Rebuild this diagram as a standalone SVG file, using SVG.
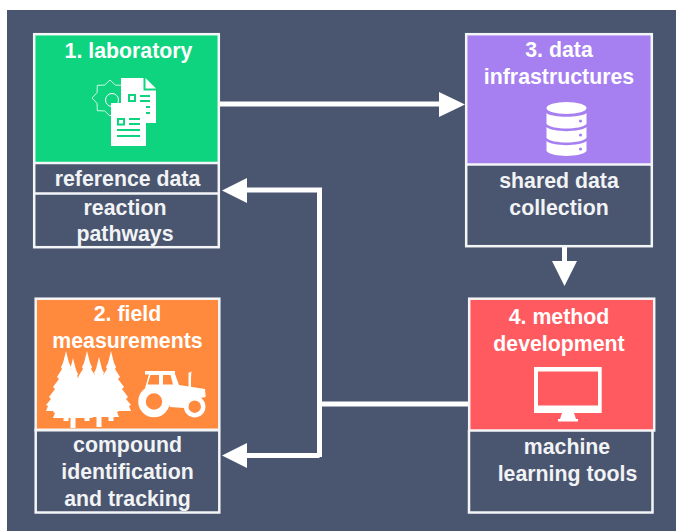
<svg xmlns="http://www.w3.org/2000/svg" width="676" height="531" viewBox="0 0 676 531">
<style>
.b{fill:none;stroke:#f4f5f7;stroke-width:2.5}
.t{font-family:"Liberation Sans",Arial,sans-serif;font-weight:700;font-size:21.3px;fill:#fff;text-anchor:middle}
.s{fill:#f2f3f5}
.w{fill:#fff}
.c{fill:none;stroke:#fff;stroke-width:5}
.h{fill:#fff}
.g{fill:#0fd47f}
</style>
<defs>
<g id="tree"><path class="w" d="M0 0L3 12L5 16L4 18L9 26L7 28L13 36L11 38L17 46L15 48L20 54L18 55L20 60L-20 60L-18 55L-20 54L-15 48L-17 46L-11 38L-13 36L-7 28L-9 26L-4 18L-5 16L-3 12Z"/><rect class="w" x="-2.500" y="60" width="5" height="10"/></g>
</defs>
<rect width="676" height="531" fill="#fff"/>
<rect x="7" y="10" width="669" height="521" fill="#4a5670"/>

<g id="connectors">
<path class="c" d="M220 104H441"/><path class="h" d="M439 92L465 104.500L439 117Z"/>
<path class="c" d="M564.500 247V263"/><path class="h" d="M552 261H577L564.500 286Z"/>
<path class="c" d="M245 190H319.500V457"/><path class="h" d="M247 178L222 190.500L247 203Z"/>
<path class="c" d="M245 455.500H319.500"/><path class="h" d="M247 443L222 455.500L247 468Z"/>
<path class="c" d="M319.500 404H469"/>
</g>

<g id="node-1">
<rect x="35" y="35" width="183" height="128" fill="#0fd47f"/>
<rect class="b" x="34.200" y="34.200" width="184.600" height="213"/>
<path class="b" d="M34 163H219M34 193.500H219"/>
<text class="t" x="128.500" y="58">1. laboratory</text>
<g id="icon-1">
<path fill="none" stroke="#fff" stroke-width="0.800" stroke-linejoin="round" d="M128 98L122.900 103.400L122.700 110.700L115.400 110.900L110 116L104.600 110.900L97.300 110.700L97.100 103.400L92 98L97.100 92.600L97.300 85.300L104.600 85.100L110 80L115.400 85.100L122.700 85.300L122.900 92.600Z"/>
<circle cx="112" cy="100" r="6.500" fill="none" stroke="#fff" stroke-width="1"/>
<path class="w" d="M121 78H143.500V90.500H156V123H121Z"/>
<path class="w" d="M145.500 78L156 88.500H145.500Z"/>
<path class="g" d="M128 94h8v8h-8zM140 95h10v2h-10zM140 100h10v2h-10zM140 106h10v2h-10zM140 112h10v2h-10z"/>
<rect class="w" x="130" y="96" width="4" height="4"/>
<rect class="w" x="111" y="103" width="35" height="43"/>
<path class="g" d="M117 118h8v7.500h-8zM129 118h11v2h-11zM129 123h11v2h-11zM117 129h23v2h-23zM117 135h23v2h-23z"/>
<rect class="w" x="119" y="120" width="4" height="3.500"/>
</g>
<text class="t s" x="127.500" y="186">reference data</text>
<text class="t s" x="125" y="215">reaction</text>
<text class="t s" x="125" y="241">pathways</text>
</g>

<g id="node-3">
<rect x="467" y="35" width="185" height="129" fill="#a67ff0"/>
<rect class="b" x="466.200" y="34.200" width="185.600" height="212"/>
<path class="b" d="M466 164.500H652"/>
<text class="t" x="559" y="57">3. data</text>
<text class="t" x="559" y="84">infrastructures</text>
<g id="icon-3" class="w">
<ellipse cx="566.500" cy="108" rx="20" ry="6"/>
<path d="M546.500 113C552 118 581 118 586.500 113V124C581 130 552 130 546.500 124Z"/>
<path d="M546.500 127C552 132.500 581 132.500 586.500 127V138C581 144 552 144 546.500 138Z"/>
<path d="M546.500 141C552 146.500 581 146.500 586.500 141V151C581 157.500 552 157.500 546.500 151Z"/>
<circle cx="580.500" cy="121" r="1.600" fill="#a67ff0"/><circle cx="580.500" cy="135" r="1.600" fill="#a67ff0"/><circle cx="580.500" cy="149" r="1.600" fill="#a67ff0"/>
</g>
<text class="t s" x="559" y="188">shared data</text>
<text class="t s" x="559" y="215">collection</text>
</g>

<g id="node-2">
<rect x="36" y="299" width="183" height="131" fill="#ff8a3d"/>
<rect class="b" x="35.700" y="298.700" width="183.600" height="213.800"/>
<path d="M34.500 430H220" fill="none" stroke="#f4f5f7" stroke-width="3"/>
<text class="t" x="127.500" y="321">2. field</text>
<text class="t" x="127.500" y="348">measurements</text>
<g id="icon-2">
<use href="#tree" x="66" y="351"/>
<use href="#tree" x="73" y="358"/>
<use href="#tree" x="87" y="351"/>
<use href="#tree" x="99" y="357"/>
<use href="#tree" x="111" y="351"/>
<rect class="w" x="66" y="378" width="45" height="33"/>
<path class="w" d="M149 374H175L179 385L205 389L205.700 397L200 398H190L184 408L170 407L165 395L150 392L144 392Z"/>
<path fill="#ff8a3d" d="M150.500 375H159V384.500H147.500ZM163 375H170.500L173 384.500H163Z"/>
<path class="w" d="M145 371H175L175 374.500H145ZM188.500 372.500C190 372.500 191 372 191.500 371C191 375 191 380 191 387H188.500Z"/>
<circle cx="154" cy="401.500" r="12" fill="#ff8a3d" stroke="#fff" stroke-width="7.500"/>
<circle cx="194.700" cy="406.700" r="8.500" fill="#ff8a3d" stroke="#fff" stroke-width="4.500"/>
</g>
<text class="t s" x="127.500" y="452">compound</text>
<text class="t s" x="127.500" y="479">identification</text>
<text class="t s" x="127.500" y="506">and tracking</text>
</g>

<g id="node-4">
<rect x="470" y="299" width="184" height="131" fill="#ff5a5f"/>
<path class="b" d="M469 430V512.500H652.500V430"/>
<rect class="b" x="469.200" y="298.700" width="185" height="131.800"/>
<text class="t" x="559" y="324">4. method</text>
<text class="t" x="559" y="351">development</text>
<g id="icon-4">
<path class="w" fill-rule="evenodd" d="M534 367H601.700V413H534ZM538 371.500V405.500H598V371.500Z"/>
<path class="w" d="M562 413H574L576 419H578V421.500H558V419H560Z"/>
</g>
<text class="t s" x="567" y="454">machine</text>
<text class="t s" x="567.500" y="481">learning tools</text>
</g>
</svg>
